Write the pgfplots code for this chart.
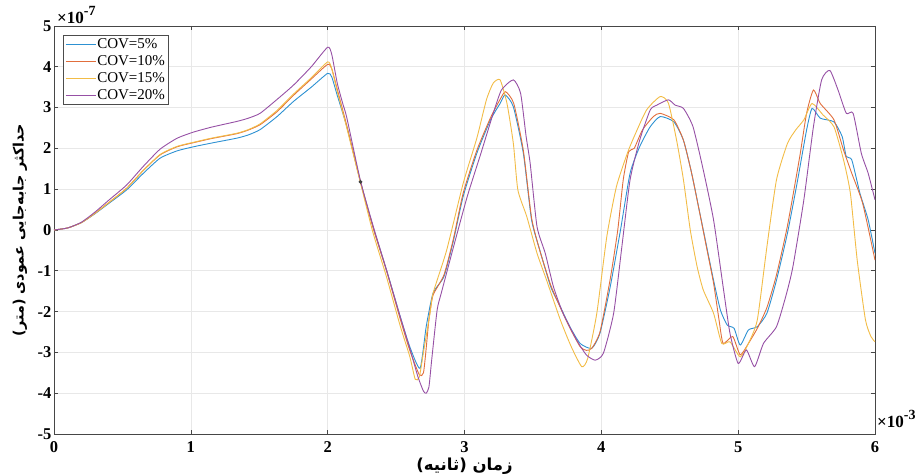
\documentclass[border=0pt]{standalone}
\usepackage{pgfplots}
\pgfplotsset{compat=1.18}
\usepackage{fontspec}
\setmainfont{Liberation Serif}
\newfontfamily\arabicfont[Script=Arabic]{DejaVu Sans}
\TeXXeTstate=1
\definecolor{cblue}{RGB}{45,145,210}
\definecolor{corange}{RGB}{225,110,60}
\definecolor{cyellow}{RGB}{242,188,70}
\definecolor{cpurple}{RGB}{150,80,165}
\begin{document}
\begin{tikzpicture}
\begin{axis}[
  at={(0,0)}, anchor=south west,
  scale only axis, width=821pt, height=408pt,
  xmin=0, xmax=6, ymin=-5, ymax=5,
  xtick={0,1,2,3,4,5,6}, ytick={-5,-4,-3,-2,-1,0,1,2,3,4,5},
  /pgf/number format/assume math mode=true,
  ticklabel style={font=\bfseries\fontsize{16.5}{16.5}\selectfont},
  xticklabel style={yshift=-4pt},
  yticklabel style={xshift=1pt},
  grid=major,
  major grid style={gray!18, line width=0.6pt},
  axis line style={gray!55!black, line width=0.6pt},
  tick style={gray!55!black, line width=0.6pt},
  tick align=inside, major tick length=4pt,
  clip=true,
  every axis y label/.style={at={(axis description cs:-0.0414,0.5)}, rotate=90, anchor=center},
  every axis x label/.style={at={(axis description cs:0.5,-0.08)}, anchor=center},
  ylabel={\arabicfont\bfseries\fontsize{14.3}{14.3}\selectfont\beginR حداکثر جابه‌جایی عمودی (متر)\endR},
  xlabel={\arabicfont\bfseries\fontsize{16.5}{16.5}\selectfont\beginR زمان (ثانیه)\endR},
  legend style={at={(axis description cs:0,1)}, xshift=9pt, yshift=-9pt, anchor=north west,
    draw=gray!60!black, line width=0.8pt, fill=white,
    font=\fontsize{15}{15}\selectfont, row sep=2.5pt, inner sep=2pt,
    nodes={inner sep=1pt, text height=10.5pt, text depth=2pt}},
  legend cell align=left,
  legend image code/.code={\draw[#1, line width=0.9pt] (0pt,0pt) -- (30pt,0pt);},
  every axis plot/.append style={line width=0.9pt, smooth, tension=0.35},
]
\addplot[cblue] coordinates {
(0,0) (0.1,0.05) (0.2,0.18) (0.3,0.4) (0.4,0.65) (0.53,0.98) (0.65,1.38) (0.775,1.76)
(0.9,1.94) (1.02,2.04) (1.15,2.13) (1.335,2.25) (1.42,2.33) (1.506,2.46) (1.63,2.78)
(1.75,3.15) (1.88,3.5) (2.0,3.84) (2.03,3.75) (2.07,3.3) (2.14,2.53) (2.24,1.18)
(2.334,0.05) (2.43,-0.98) (2.53,-2.12) (2.60,-2.86) (2.675,-3.39) (2.72,-2.37)
(2.77,-1.55) (2.85,-1.14) (2.92,-0.25) (2.99,0.82) (3.09,1.88) (3.19,2.7) (3.26,3.1)
(3.297,3.31) (3.357,3.02) (3.43,1.88) (3.49,0.25) (3.55,-0.49) (3.63,-1.39) (3.70,-1.88)
(3.77,-2.37) (3.845,-2.78) (3.93,-2.9) (3.99,-2.53) (4.065,-1.39) (4.14,0) (4.21,1.39)
(4.28,2.04) (4.357,2.53) (4.43,2.78) (4.53,2.65) (4.60,2.2) (4.66,1.39) (4.72,0.41)
(4.77,-0.41) (4.82,-1.23) (4.87,-1.96) (4.92,-2.33) (4.97,-2.41) (5.015,-2.82)
(5.075,-2.45) (5.14,-2.37) (5.21,-2.04) (5.28,-1.23) (5.36,-0.08) (5.43,1.14)
(5.50,2.45) (5.54,2.98) (5.60,2.74) (5.70,2.65) (5.76,2.29) (5.79,1.8) (5.83,1.72)
(5.89,0.9) (5.95,0.25) (6.0,-0.57)
};
\addlegendentry{COV=5\%}
\addplot[corange] coordinates {
(0,0) (0.1,0.05) (0.2,0.18) (0.3,0.41) (0.4,0.67) (0.53,1.02) (0.65,1.45) (0.775,1.84)
(0.9,2.04) (1.02,2.14) (1.15,2.24) (1.335,2.36) (1.42,2.45) (1.506,2.58) (1.63,2.9)
(1.75,3.3) (1.88,3.7) (2.0,4.06) (2.03,3.95) (2.07,3.45) (2.14,2.55) (2.24,1.18)
(2.334,0.03) (2.43,-1.0) (2.53,-2.18) (2.60,-2.95) (2.67,-3.55) (2.70,-3.5) (2.72,-2.9)
(2.74,-2.2) (2.77,-1.6) (2.85,-1.1) (2.92,-0.2) (2.99,0.9) (3.09,1.95) (3.19,2.75)
(3.26,3.2) (3.30,3.39) (3.36,3.1) (3.43,1.95) (3.49,0.3) (3.55,-0.5) (3.63,-1.35)
(3.70,-1.9) (3.77,-2.4) (3.845,-2.86) (3.89,-2.95) (3.93,-2.9) (3.99,-2.5) (4.065,-1.2)
(4.12,0) (4.16,1.23) (4.20,1.92) (4.24,2.0) (4.30,2.45) (4.38,2.78) (4.43,2.86)
(4.53,2.7) (4.60,2.2) (4.66,1.39) (4.72,0.4) (4.77,-0.45) (4.82,-1.3) (4.86,-2.2)
(4.89,-2.78) (4.96,-2.61) (5.015,-3.06) (5.075,-2.78) (5.14,-2.41) (5.21,-1.9)
(5.28,-1.1) (5.36,0.1) (5.45,1.8) (5.50,2.86) (5.55,3.43) (5.60,3.1) (5.70,2.7)
(5.77,1.96) (5.83,1.39) (5.91,0.65) (6.0,-0.74)
};
\addlegendentry{COV=10\%}
\addplot[cyellow] coordinates {
(0,0) (0.1,0.05) (0.2,0.18) (0.3,0.41) (0.4,0.67) (0.53,1.02) (0.65,1.45) (0.775,1.85)
(0.9,2.05) (1.02,2.15) (1.15,2.25) (1.335,2.37) (1.42,2.46) (1.506,2.6) (1.63,2.93)
(1.75,3.33) (1.88,3.73) (2.0,4.12) (2.03,3.95) (2.07,3.4) (2.14,2.5) (2.24,1.15)
(2.33,-0.05) (2.43,-1.15) (2.53,-2.35) (2.60,-3.1) (2.64,-3.66) (2.67,-3.6) (2.70,-3.0)
(2.75,-2.0) (2.77,-1.55) (2.87,-0.49) (2.99,1.14) (3.09,2.25) (3.16,3.19) (3.21,3.6)
(3.26,3.68) (3.31,3.11) (3.357,2.12) (3.39,0.98) (3.455,0.33) (3.53,-0.57) (3.60,-1.23)
(3.70,-2.2) (3.78,-2.86) (3.857,-3.35) (3.90,-3.15) (3.967,-2.04) (4.04,-0.16)
(4.11,1.06) (4.19,1.88) (4.24,2.29) (4.33,2.94) (4.43,3.27) (4.49,3.11) (4.55,2.2)
(4.60,1.23) (4.65,0) (4.70,-0.9) (4.745,-1.47) (4.82,-2.04) (4.88,-2.78) (4.94,-2.74)
(5.015,-3.11) (5.075,-2.78) (5.14,-2.2) (5.21,-0.41) (5.28,1.23) (5.36,2.12) (5.42,2.45)
(5.48,2.7) (5.54,3.1) (5.62,2.82) (5.70,2.53) (5.77,1.72) (5.82,0.9) (5.87,-0.74)
(5.93,-2.2) (5.97,-2.61) (6.0,-2.74)
};
\addlegendentry{COV=15\%}
\addplot[cpurple] coordinates {
(0,0) (0.1,0.05) (0.2,0.19) (0.3,0.44) (0.4,0.73) (0.53,1.1) (0.65,1.55) (0.775,1.98)
(0.9,2.25) (1.02,2.4) (1.15,2.52) (1.335,2.66) (1.42,2.74) (1.506,2.86) (1.63,3.2)
(1.75,3.55) (1.88,4.0) (2.0,4.48) (2.03,4.3) (2.07,3.6) (2.11,3.1) (2.14,2.75) (2.24,1.2)
(2.334,0.08) (2.43,-0.98) (2.53,-2.12) (2.60,-2.9) (2.66,-3.6) (2.70,-3.95) (2.72,-4.0)
(2.74,-3.85) (2.76,-3.19) (2.80,-1.96) (2.83,-1.55) (2.92,-0.41) (3.02,0.82) (3.12,1.88)
(3.21,2.86) (3.27,3.43) (3.357,3.68) (3.41,3.35) (3.45,2.3) (3.48,1.63) (3.53,0.08)
(3.59,-0.57) (3.65,-1.39) (3.72,-2.04) (3.82,-2.7) (3.89,-3.06) (3.955,-3.19)
(4.015,-3.02) (4.09,-2.04) (4.15,-0.41) (4.21,1.23) (4.28,2.2) (4.357,2.94) (4.405,3.06)
(4.49,3.19) (4.54,3.06) (4.60,2.98) (4.67,2.53) (4.745,1.47) (4.82,0.25) (4.89,-1.39)
(4.94,-2.53) (5.0,-3.27) (5.06,-2.94) (5.12,-3.35) (5.185,-2.78) (5.28,-2.37) (5.35,-1.6)
(5.40,-0.9) (5.48,0.74) (5.55,2.53) (5.61,3.68) (5.67,3.91) (5.73,3.43) (5.79,2.86)
(5.84,2.86) (5.90,1.88) (5.95,1.39) (6.0,0.74)
};
\addlegendentry{COV=20\%}
\addplot[only marks, mark=*, mark size=1.4pt, color=darkgray, forget plot] coordinates {(2.24,1.18)};
\end{axis}
\node[anchor=base west, inner sep=0pt, font=\bfseries\fontsize{17}{17}\selectfont] at (3pt,410pt) {×10\raisebox{8pt}{\fontsize{14}{14}\selectfont -7}};
\node[anchor=base west, inner sep=0pt, font=\bfseries\fontsize{17}{17}\selectfont] at (823pt,6pt) {×10\raisebox{8pt}{\fontsize{14}{14}\selectfont -3}};
\pgfresetboundingbox
\path (-54pt,-42pt) rectangle (861pt,434pt);
\end{tikzpicture}
\end{document}
